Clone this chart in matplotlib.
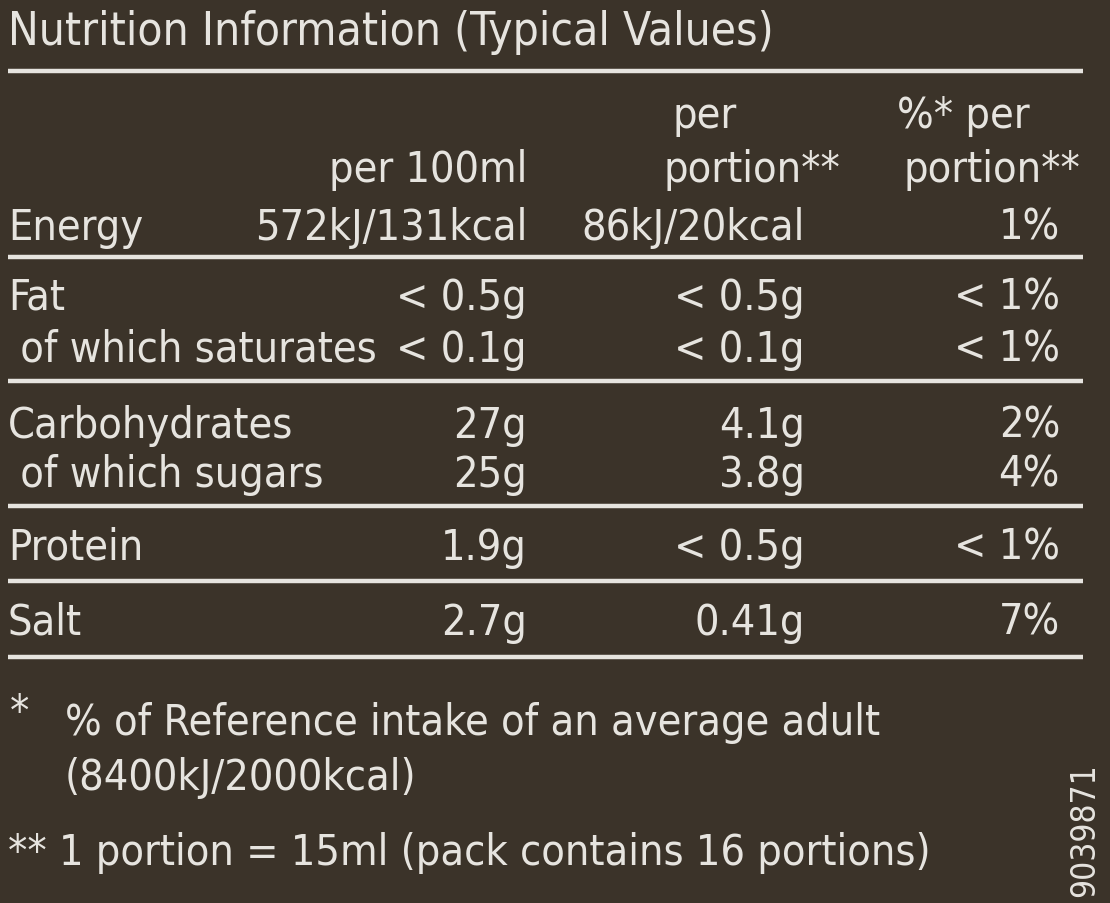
import matplotlib
matplotlib.use("Agg")
import matplotlib.pyplot as plt

nutrients = ["Energy", "Fat", " of which saturates", "Carbohydrates", " of which sugars", "Protein", "Salt"]
per_100ml = ["572kJ/131kcal", "< 0.5g", "< 0.1g", "27g", "25g", "1.9g", "2.7g"]
per_portion = ["86kJ/20kcal", "< 0.5g", "< 0.1g", "4.1g", "3.8g", "< 0.5g", "0.41g"]
pct_portion = ["1%", "< 1%", "< 1%", "2%", "4%", "< 1%", "7%"]
row_y = [240, 310, 362, 438, 487, 560, 635]
sep_y = [72, 258, 382, 507, 582, 658]

bg = "#3b3329"
fg = "#e6e4df"
fam = ["DejaVu Sans"]
fs = 31

fig = plt.figure(figsize=(11.1, 9.04), dpi=100, facecolor=bg)
ax = fig.add_axes([0, 0, 1, 1])
ax.set_xlim(0, 1110); ax.set_ylim(904, 0); ax.axis("off")
ax.set_facecolor(bg)

def t(x, y, s, ha="left", size=fs, **kw):
    ax.text(x, y, s, ha=ha, va="baseline", color=fg, fontsize=size, family=fam,
            fontstretch="condensed", **kw)

t(8, 45, "Nutrition Information (Typical Values)", size=33)
for y in sep_y:
    ax.plot([8, 1083], [y, y], color=fg, lw=3.2, solid_capstyle="butt")

t(705, 128, "per", ha="center")
t(1030, 128, "%* per", ha="right")
t(527, 182, "per 100ml", ha="right")
t(840, 182, "portion**", ha="right")
t(1080, 182, "portion**", ha="right")

for n, a, b, c, y in zip(nutrients, per_100ml, per_portion, pct_portion, row_y):
    t(8, y, n)
    t(527, y, a, ha="right")
    t(805, y, b, ha="right")
    t(1060, y, c, ha="right")

t(10, 725, "*")
t(65, 735, "% of Reference intake of an average adult")
t(65, 790, "(8400kJ/2000kcal)")
t(8, 865, "** 1 portion = 15ml (pack contains 16 portions)")
ax.text(1085, 830, "9039871", rotation=90, ha="center", va="center", color=fg,
        fontsize=24, family=fam, fontstretch="condensed")

fig.savefig("out.png", dpi=100, facecolor=bg)
